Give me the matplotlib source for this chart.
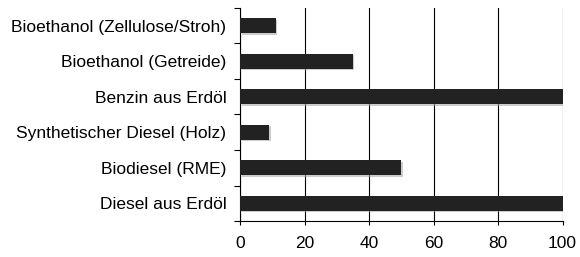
import numpy as np
import matplotlib
matplotlib.use("Agg")
import matplotlib.pyplot as plt
import matplotlib.patheffects as pe

plt.rcParams['font.family'] = ['Liberation Sans', 'DejaVu Sans']

labels = ["Diesel aus Erdöl", "Biodiesel (RME)", "Synthetischer Diesel (Holz)",
          "Benzin aus Erdöl", "Bioethanol (Getreide)", "Bioethanol (Zellulose/Stroh)"]
values = [100, 50, 9, 100, 35, 11]
xticks = [0, 20, 40, 60, 80, 100]

fig = plt.figure(figsize=(5.8, 2.57), dpi=100)
ax = fig.add_axes([0.4143, 0.140, 0.9700 - 0.4143, 0.969 - 0.140])

pos = np.arange(len(labels))
bars = ax.barh(pos, values, height=0.42, color="#222222", zorder=3)
for b in bars:
    b.set_path_effects([pe.SimplePatchShadow(offset=(1, -1), shadow_rgbFace="#aaaaaa", alpha=0.6),
                        pe.Normal()])

ax.set_xlim(0, 100)
ax.set_ylim(-0.5, len(labels) - 0.5)
ax.set_xticks(xticks)
ax.set_xticklabels([str(t) for t in xticks], fontsize=12.5)
ax.xaxis.grid(True, color="black", linewidth=0.8, zorder=0)

ax.set_yticks(np.arange(-0.5, len(labels), 1.0))
ax.set_yticklabels([])
ax.set_yticks(pos, minor=True)
ax.set_yticklabels(labels, minor=True, fontsize=12.5)
ax.tick_params(axis="y", which="major", length=4, width=0.8, direction="out")
ax.tick_params(axis="y", which="minor", length=0, pad=10)
ax.tick_params(axis="x", length=3, width=0.8, pad=8)

for s in ["top", "right"]:
    ax.spines[s].set_visible(False)
ax.spines["left"].set_linewidth(0.8)
ax.spines["bottom"].set_linewidth(0.8)

fig.savefig("out.png", dpi=100)
